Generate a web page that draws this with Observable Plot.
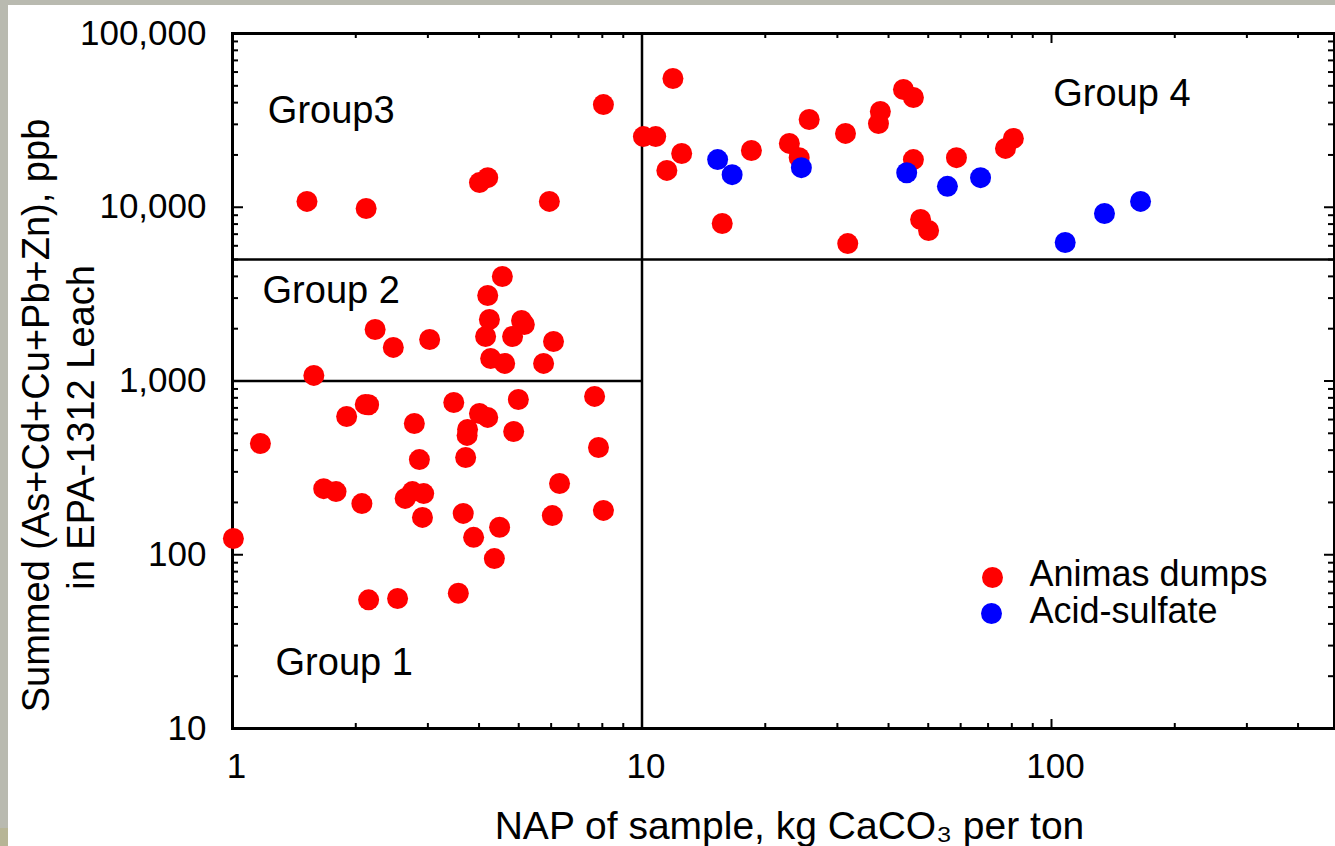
<!DOCTYPE html>
<html><head><meta charset="utf-8">
<script src="https://cdn.jsdelivr.net/npm/d3@7"></script>
<script src="https://cdn.jsdelivr.net/npm/@observablehq/plot@0.6"></script>
<style>
html,body{margin:0;padding:0;overflow:hidden;background:#b9bab0;width:1335px;height:846px;}
#panel{position:absolute;left:8px;top:5px;width:1327px;height:841px;background:#fff;}
#khaki{position:absolute;left:0;top:828px;width:8px;height:18px;background:#b7b596;}
#chart{position:absolute;left:0;top:0;}
</style></head><body>
<div id="panel"></div><div id="khaki"></div><div id="chart"></div>
<script>
// NAP (kg CaCO3 per ton) and summed metals (ppb) — Animas dumps
const animasNAP = [
  1.52, 2.12, 4.01, 4.2, 5.94, 8.05,
  11.9, 10.08, 10.8, 11.5, 12.5, 18.5, 15.7, 22.9, 24.2, 25.6, 31.4, 31.8, 38.2, 37.8, 43.5, 46, 46, 47.9, 50.1, 58.6, 77.2, 80.7,
  4.56, 4.2, 4.24, 5.08, 5.16, 4.15, 4.83, 4.27, 4.62, 5.75, 6.08, 2.23, 2.47, 3.03, 1.58,
  1.17, 1.90, 2.11, 2.15, 2.78, 3.47, 4.01, 4.2, 3.75, 3.74, 4.99, 4.86, 7.66, 7.83, 2.86, 3.71,
  1.67, 1.79, 2.07, 2.64, 2.75, 2.93, 2.91, 3.66, 3.88, 4.49, 4.36, 6.29, 6.04, 8.05, 1.005,
  2.15, 2.53, 3.56
];
const animasMetals = [
  10800, 9840, 13870, 14800, 10800, 39000,
  55100, 25500, 25500, 16300, 20400, 21200, 8060, 23300, 19300, 32000, 26600, 6180, 35600, 30300, 47600, 42800, 18800, 8500, 7350, 19300, 21800, 24900,
  3994, 3105, 2259, 2230, 2115, 1803, 1803, 1347, 1262, 1262, 1688, 1979, 1560, 1734, 1077,
  437, 625, 733, 730, 569, 752, 650, 617, 526, 486, 783, 512, 815, 414, 353, 363,
  240, 231, 197, 211, 231, 225, 164, 173, 126, 144, 95, 257, 168, 180, 124,
  55, 56, 60
];
// Acid-sulfate
const acidNAP = [15.3, 16.6, 24.5, 44.3, 55.7, 67.1, 108, 134.7, 165];
const acidMetals = [18800, 15400, 16900, 15800, 13200, 14800, 6270, 9200, 10800];

const xMajorTicks = [1, 10, 100];
const xMinorTicks = [2, 3, 4, 5, 6, 7, 8, 9, 20, 30, 40, 50, 60, 70, 80, 90, 200, 300, 400];
const yMajorTicks = [10, 100, 1000, 10000, 100000];
const yMinorTicks = [20, 30, 40, 50, 60, 70, 80, 90, 200, 300, 400, 500, 600, 700, 800, 900,
  2000, 3000, 4000, 5000, 6000, 7000, 8000, 9000, 20000, 30000, 40000, 50000, 60000, 70000, 80000, 90000];

// group boundaries
const boundaryFullY = [5000];
const boundaryPartial = [{y: 1000, x1: 1, x2: 10}];
const boundaryX = [10];

const groupLabels = ["Group3", "Group 2", "Group 1", "Group 4"];
const groupAnchorNAP = [1.22, 1.184, 1.274, 101];
const groupAnchorMetals = [30700, 2830, 20.2, 38500];

const seriesNames = ["Animas dumps", "Acid-sulfate"];
const seriesColors = ["#ff0000", "#0000ff"];
const xTitle = "NAP of sample, kg CaCO\u2083 per ton";
const yTitleLines = ["Summed (As+Cd+Cu+Pb+Zn), ppb", "in EPA-1312 Leach"];

const W = 1335, H = 846, mL = 232, mR = 1, mT = 33, mB = 118;
const fw = W - mL - mR, fh = H - mT - mB;
const fmt = d3.format(",");
const FONT = "'Liberation Sans', Arial, Helvetica, sans-serif";

const animas = animasNAP.map((x, i) => ({nap: x, metals: animasMetals[i]}));
const acid = acidNAP.map((x, i) => ({nap: x, metals: acidMetals[i]}));
const groups = groupLabels.map((t, i) => ({t, nap: groupAnchorNAP[i], metals: groupAnchorMetals[i]}));

const tickStyle = {stroke: "black", strokeWidth: 2};

const chart = Plot.plot({
  width: W, height: H,
  marginLeft: mL, marginRight: mR, marginTop: mT, marginBottom: mB,
  x: {type: "log", domain: [1, 491], axis: null},
  y: {type: "log", domain: [10, 100000], axis: null},
  style: {fontFamily: FONT, background: "transparent", overflow: "visible", color: "black"},
  marks: [
    // boundaries
    Plot.ruleY(boundaryFullY, {y: d => d, stroke: "black", strokeWidth: 2.5}),
    Plot.ruleY(boundaryPartial, {y: "y", x1: "x1", x2: "x2", stroke: "black", strokeWidth: 2.5}),
    Plot.ruleX(boundaryX, {x: d => d, stroke: "black", strokeWidth: 2.5}),
    // inward ticks, bottom & top
    Plot.tickX(xMajorTicks, {x: d => d, insetTop: fh - 9, ...tickStyle}),
    Plot.tickX(xMinorTicks, {x: d => d, insetTop: fh - 5, ...tickStyle}),
    Plot.tickX(xMajorTicks, {x: d => d, insetBottom: fh - 10, ...tickStyle}),
    Plot.tickX(xMinorTicks, {x: d => d, insetBottom: fh - 5, ...tickStyle}),
    // inward ticks, left & right
    Plot.tickY(yMajorTicks, {y: d => d, insetRight: fw - 11, ...tickStyle}),
    Plot.tickY(yMinorTicks, {y: d => d, insetRight: fw - 6, ...tickStyle}),
    Plot.tickY(yMajorTicks, {y: d => d, insetLeft: fw - 10, ...tickStyle}),
    Plot.tickY(yMinorTicks, {y: d => d, insetLeft: fw - 6, ...tickStyle}),
    Plot.frame({stroke: "black", strokeWidth: 3}),
    // tick labels
    Plot.text(xMajorTicks, {x: d => d, text: d => fmt(d), frameAnchor: "bottom", textAnchor: "middle", lineAnchor: "bottom", dy: 49, dx: 4, fontSize: 35, fill: "black"}),
    Plot.text(yMajorTicks, {y: d => d, text: d => fmt(d), frameAnchor: "left", textAnchor: "end", lineAnchor: "middle", dx: -26, fontSize: 35, fill: "black"}),
    // axis titles
    Plot.text([xTitle], {text: d => d, frameAnchor: "bottom", textAnchor: "middle", lineAnchor: "bottom", dy: 110, dx: 6, fontSize: 39, fill: "black"}),
    Plot.text([yTitleLines[0]], {text: d => d, frameAnchor: "left", textAnchor: "middle", rotate: -90, lineAnchor: "bottom", dx: 48 - mL, dy: 415 - (mT + fh / 2), fontSize: 38, fill: "black"}),
    Plot.text([yTitleLines[1]], {text: d => d, frameAnchor: "left", textAnchor: "middle", rotate: -90, lineAnchor: "bottom", dx: 93 - mL, dy: 427 - (mT + fh / 2), fontSize: 38, fill: "black"}),
    // group labels
    Plot.text(groups, {x: "nap", y: "metals", text: "t", textAnchor: "start", lineAnchor: "bottom", fontSize: 38, fill: "black"}),
    // points
    Plot.dot(animas, {x: "nap", y: "metals", r: 10.5, fill: seriesColors[0]}),
    Plot.dot(acid, {x: "nap", y: "metals", r: 10.5, fill: seriesColors[1]}),
    // legend
    Plot.dot([seriesNames[0]], {frameAnchor: "bottom-right", dx: 992 - (W - mR), dy: 577 - (mT + fh), r: 10.5, fill: seriesColors[0]}),
    Plot.dot([seriesNames[1]], {frameAnchor: "bottom-right", dx: 991 - (W - mR), dy: 613 - (mT + fh), r: 10.5, fill: seriesColors[1]}),
    Plot.text([seriesNames[0]], {text: d => d, frameAnchor: "bottom-right", textAnchor: "start", lineAnchor: "bottom", dx: 1029 - (W - mR), dy: 585 - (mT + fh), fontSize: 36, fill: "black"}),
    Plot.text([seriesNames[1]], {text: d => d, frameAnchor: "bottom-right", textAnchor: "start", lineAnchor: "bottom", dx: 1029 - (W - mR), dy: 622 - (mT + fh), fontSize: 36, fill: "black"})
  ]
});
document.getElementById("chart").appendChild(chart);
</script>
</body></html>
